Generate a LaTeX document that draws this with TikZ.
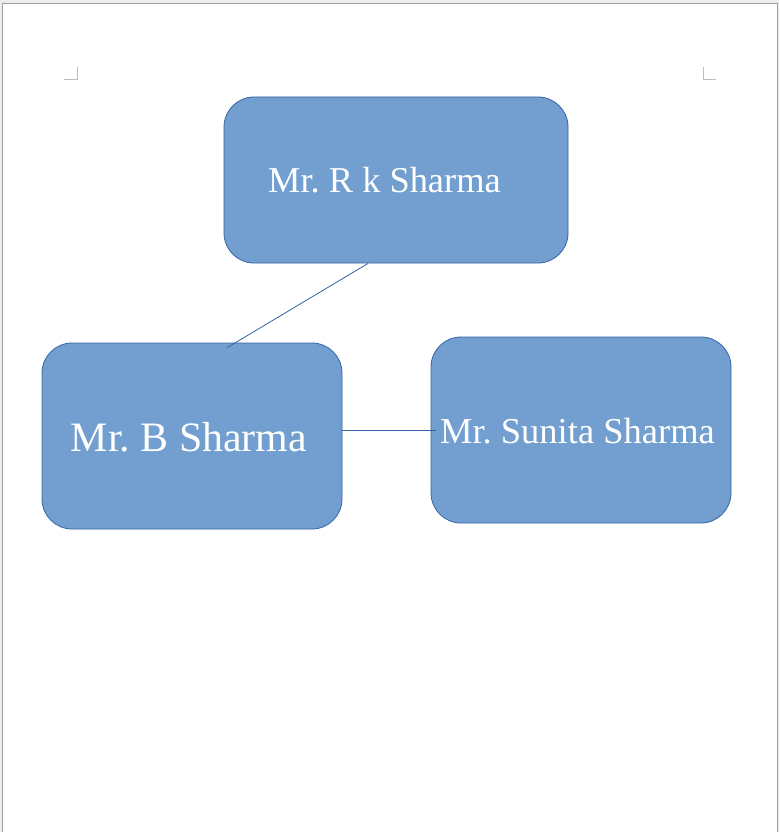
\documentclass[tikz,border=0pt]{standalone}
\usepackage{fontspec}
\setmainfont{Liberation Serif}
\usetikzlibrary{calc}
\frenchspacing
\definecolor{boxfill}{RGB}{114,159,207}
\definecolor{boxline}{RGB}{52,101,164}
\definecolor{pagegray}{RGB}{160,160,160}
\definecolor{markgray}{RGB}{190,190,190}
\definecolor{outside}{RGB}{236,236,236}
\tikzset{
  person/.style={draw=boxline, line width=0.8pt, fill=boxfill, rounded corners=30pt, inner sep=0pt},
  nametext/.style={text=white, anchor=base, inner sep=0pt},
  link/.style={draw=boxline, line width=0.8pt},
  cornermark/.style={draw=markgray, line width=0.8pt}
}
\begin{document}
\begin{tikzpicture}[x=1pt,y=-1pt]
\useasboundingbox (0,0) rectangle (779,832);
\fill[outside] (0,0) rectangle (779,832);
\filldraw[fill=white, draw=pagegray, line width=1pt] (2,4) rectangle (777,840);
% corner marks
\draw[cornermark] (64,79) -- (77,79) -- (77,67);
\draw[cornermark] (703,67) -- (703,79) -- (716,79);
% boxes
\node[person, minimum width=344pt, minimum height=166pt] (rk) at (396,180) {};
\node[person, minimum width=300pt, minimum height=186pt] (b) at (192,436) {};
\node[person, minimum width=300pt, minimum height=186pt] (s) at (581,430) {};
% texts
\node[nametext, font=\fontsize{36.4}{41}\selectfont] (rkt) at (384.5,192) {Mr. R k Sharma};
\node[nametext, font=\fontsize{41.9}{47}\selectfont] (bt) at (189,451) {Mr. B Sharma};
\node[nametext, font=\fontsize{36.5}{41}\selectfont] (st) at (577.5,443) {Mr. Sunita Sharma};
% connectors
\coordinate (rkend) at ($(rk.south west)!0.419!(rk.south east)$);
\coordinate (bend) at ($(b.north west)!0.617!(b.north east)+(0,5)$);
\draw[link] (rkend) -- (bend);
\coordinate (send) at ($(s.west |- 0,430)+(5,0)$);
\draw[link] (b.east |- send) -- (send);
\end{tikzpicture}
\end{document}
